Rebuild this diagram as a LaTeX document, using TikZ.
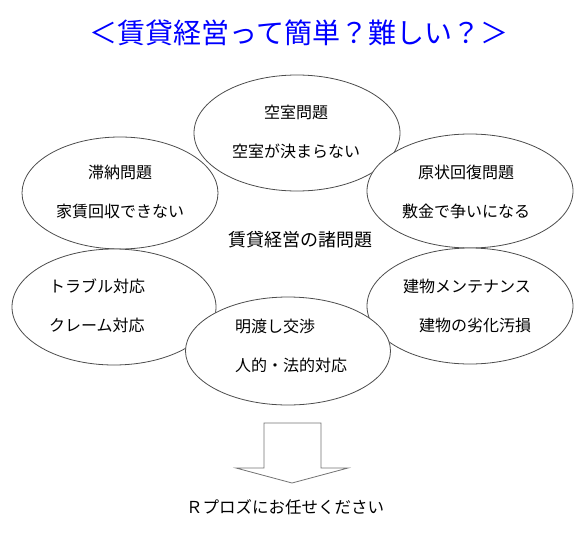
\documentclass[tikz,border=0pt]{standalone}
\usepackage{fontspec}
\setmainfont{Noto Sans CJK JP}
\usetikzlibrary{shapes.geometric, positioning}

\begin{document}
\begin{tikzpicture}[x=1pt, y=-1pt,
        bubble/.style={ellipse, draw=black!70, line width=0.8pt, fill=white, inner sep=0pt},
        bubbletext/.style={inner sep=0pt, font=\fontsize{16}{39}\selectfont}]
            \useasboundingbox (0,0) rectangle (583,533);

            \node[text=blue, inner sep=0pt, font=\fontsize{28}{30}\selectfont] (title) at (299,33) {＜賃貸経営って簡単？難しい？＞};

            \node[bubble, minimum width=206, minimum height=116] (vacancy) at (297,133) {};
            \node[bubble, minimum width=196, minimum height=112] (arrears) at (120,193) {};
            \node[bubble, minimum width=206, minimum height=114] (restore) at (470,191) {};
            \node[bubble, minimum width=204, minimum height=116] (trouble) at (114,307) {};
            \node[bubble, minimum width=206, minimum height=116] (upkeep) at (470,306) {};
            \node[bubble, minimum width=205, minimum height=108] (eviction) at (288,351) {};

            \node[bubbletext, align=center] (vacancytext) at (296,132) {空室問題\\空室が決まらない};
            \node[bubbletext, align=center] (arrearstext) at (120,192) {滞納問題\\家賃回収できない};
            \node[bubbletext, align=center] (restoretext) at (466,192) {原状回復問題\\敷金で争いになる};
            \node[bubbletext, align=left, anchor=west] (troubletext) at (49,306) {トラブル対応\\クレーム対応};
            \node[bubbletext, align=left, anchor=west] (upkeeptext) at (403,306) {建物メンテナンス\\\hspace*{16pt}建物の劣化汚損};
            \node[bubbletext, align=left, anchor=west] (evictiontext) at (235,346) {明渡し交渉\\人的・法的対応};

            \node[inner sep=0pt, font=\fontsize{18}{20}\selectfont] (theme) at (300,240) {賃貸経営の諸問題};

            \draw[black!55, line width=0.8pt, fill=white] (264,423) -- (321,423) -- (321,468) -- (348,468)
                -- (292,483) -- (236,468) -- (264,468) -- cycle;

            \node[inner sep=0pt, font=\fontsize{16.5}{18}\selectfont] (answer) at (285,507) {Ｒプロズにお任せください};
        \end{tikzpicture}
\end{document}
